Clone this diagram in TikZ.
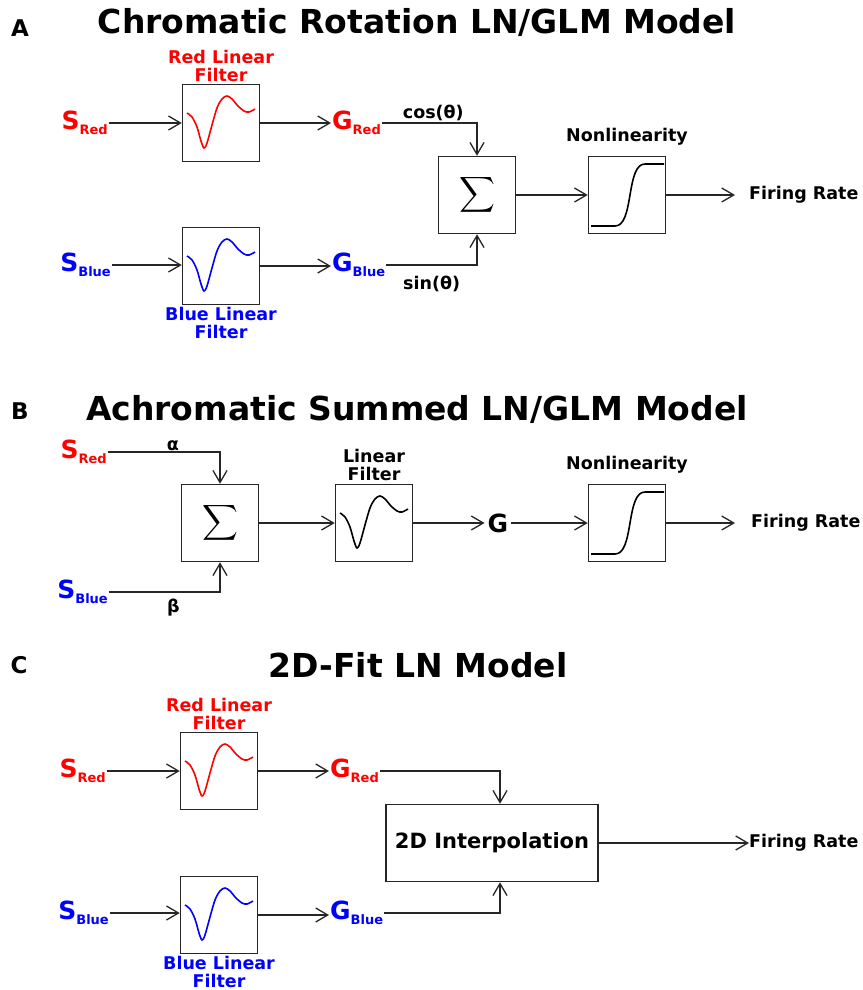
\documentclass[tikz,border=0pt]{standalone}
\usepackage{amsmath}
\usepackage{fontspec}
\setmainfont{DejaVu Sans}
\usetikzlibrary{arrows.meta,positioning}
\definecolor{cRed} {HTML}{FF0000}
\definecolor{cBlue}{HTML}{0000FF}
\definecolor{cLine}{HTML}{262626}
\newcommand{\fsz}[1]{\fontsize{#1}{#1}\selectfont}
\newcommand{\inp}[2]{{\fsz{25}#1}\raisebox{-5pt}{\fsz{13}#2}}
\tikzset{
  blk/.style  ={draw=cLine,line width=1.5pt,minimum width=77pt,minimum height=77pt,
                inner sep=0pt},
  lbl/.style  ={font=\fsz{17.5}\bfseries,align=center,inner sep=1pt},
  ttl/.style  ={font=\fsz{33}\bfseries,inner sep=0pt},
  pnl/.style  ={font=\fsz{23}\bfseries,inner sep=0pt},
  io/.style   ={font=\bfseries,inner sep=1pt},
  sig/.style  ={-{Straight Barb[length=12pt,width=14pt]},draw=cLine,line width=1.3pt},
  crv/.style  ={line width=1.6pt},
}
% damped wave of a linear filter and the sigmoid, both around a box centre
\newcommand{\lfwave}[2]{\draw[crv,#2,shift={(#1)}] plot[smooth,tension=0.55] coordinates
  {(-34,-10) (-29,-6) (-24,4) (-20,18) (-17,25) (-14,20) (-9,2) (-4,-15) (1,-24)
   (6,-27) (11,-24) (17,-17) (23,-12) (28,-11) (34,-14)};}
\newcommand{\sigm}[1]{\draw[crv,black,shift={(#1)}] (-36,31) -- (-12,31)
  .. controls (-3,31) and (0,18) .. (3,0) .. controls (6,-18) and (9,-31) .. (18,-31) -- (37,-31);}
\newcommand{\sumsym}{\fsz{30}$\displaystyle\sum$}

\begin{document}
\begin{tikzpicture}[x=1pt, y=-1pt]
\useasboundingbox (0,0) rectangle (862,990);

% ---------------- A: chromatic rotation
\node[pnl] (pA) at (20,28) {A};
\node[ttl] (tA) at (417,22) {Chromatic Rotation LN/GLM Model};

\node[blk] (rfA) at (221,123) {};
\node[blk] (bfA) at (221,266) {};
\lfwave{rfA.center}{cRed}
\lfwave{bfA.center}{cBlue}
\node[lbl,text=cRed,above=1pt of rfA] (rfAl) {Red Linear\\Filter};
\node[lbl,text=cBlue,below=1pt of bfA] (bfAl) {Blue Linear\\Filter};

\node[io,text=cRed,anchor=east]  (srA) at (109,123) {\inp{S}{Red}};
\node[io,text=cBlue,anchor=east] (sbA) at (112,265) {\inp{S}{Blue}};
\node[io,text=cRed,anchor=west]  (grA) at (331,123) {\inp{G}{Red}};
\node[io,text=cBlue,anchor=west] (gbA) at (331,265) {\inp{G}{Blue}};

\node[blk] (sA) at (477,195) {\sumsym};
\node[blk] (nA) at (627,195) {};
\sigm{nA.center}
\node[lbl,above=9pt of nA] (nAl) {Nonlinearity};
\node[lbl,anchor=west] (fA) at (748,195) {Firing Rate};

\draw[sig] (srA.east) -- (srA.east -| rfA.west);
\draw[sig] (sbA.east) -- (sbA.east -| bfA.west);
\draw[sig] (rfA.east) -- (rfA.east -| grA.west);
\draw[sig] (bfA.east) -- (bfA.east -| gbA.west);
\draw[sig] (grA.east) -| node[lbl,pos=0.27,above=1pt] (cosA) {cos(θ)} (sA.north);
\draw[sig] (gbA.east) -| node[lbl,pos=0.25,below=9pt] (sinA) {sin(θ)} (sA.south);
\draw[sig] (sA) -- (nA);
\draw[sig] (nA.east) -- ([xshift=-13pt]fA.west);

% ---------------- B: achromatic sum
\node[pnl] (pB) at (20,411) {B};
\node[ttl] (tB) at (417,409) {Achromatic Summed LN/GLM Model};

\node[io,text=cRed,anchor=east]  (srB) at (108,452) {\inp{S}{Red}};
\node[io,text=cBlue,anchor=east] (sbB) at (109,592) {\inp{S}{Blue}};
\node[blk] (sB) at (220,523) {\sumsym};
\node[blk] (lfB) at (374,523) {};
\lfwave{lfB.center}{black}
\node[lbl,above=2pt of lfB] (lfBl) {Linear\\Filter};
\node[io,inner sep=3pt] (gB) at (498,523) {\fsz{25}G};
\node[blk] (nB) at (627,523) {};
\sigm{nB.center}
\node[lbl,above=9pt of nB] (nBl) {Nonlinearity};
\node[lbl,anchor=west] (fB) at (750,523) {Firing Rate};

\draw[sig] (srB.east) -| node[lbl,pos=0.29,above=0pt] (alB) {α} (sB.north);
\draw[sig] (sbB.east) -| node[lbl,pos=0.29,below=5pt] (beB) {β} (sB.south);
\draw[sig] (sB) -- (lfB);
\draw[sig] (lfB) -- (gB);
\draw[sig] (gB) -- (nB);
\draw[sig] (nB.east) -- ([xshift=-15pt]fB.west);

% ---------------- C: 2D fit
\node[pnl] (pC) at (19,665) {C};
\node[ttl] (tC) at (418,665) {2D-Fit LN Model};

\node[blk] (rfC) at (219,771) {};
\node[blk] (bfC) at (219,915) {};
\lfwave{rfC.center}{cRed}
\lfwave{bfC.center}{cBlue}
\node[lbl,text=cRed,above=1pt of rfC] (rfCl) {Red Linear\\Filter};
\node[lbl,text=cBlue,below=1pt of bfC] (bfCl) {Blue Linear\\Filter};

\node[io,text=cRed,anchor=east]  (srC) at (107,771) {\inp{S}{Red}};
\node[io,text=cBlue,anchor=east] (sbC) at (110,913) {\inp{S}{Blue}};
\node[io,text=cRed,anchor=west]  (grC) at (329,771) {\inp{G}{Red}};
\node[io,text=cBlue,anchor=west] (gbC) at (329,913) {\inp{G}{Blue}};

\node[blk,minimum width=212pt,font=\fsz{21}\bfseries] (iC) at (492,843) {2D Interpolation};
\node[lbl,anchor=west,inner sep=0pt] (fC) at (749,843) {Firing Rate};

\draw[sig] (srC.east) -- (srC.east -| rfC.west);
\draw[sig] (sbC.east) -- (sbC.east -| bfC.west);
\draw[sig] (rfC.east) -- (rfC.east -| grC.west);
\draw[sig] (bfC.east) -- (bfC.east -| gbC.west);
\draw[sig] (grC.east) -| ([xshift=8pt]iC.north);
\draw[sig] (gbC.east) -| ([xshift=8pt]iC.south);
\draw[sig] (iC) -- (fC);
\end{tikzpicture}
\end{document}
